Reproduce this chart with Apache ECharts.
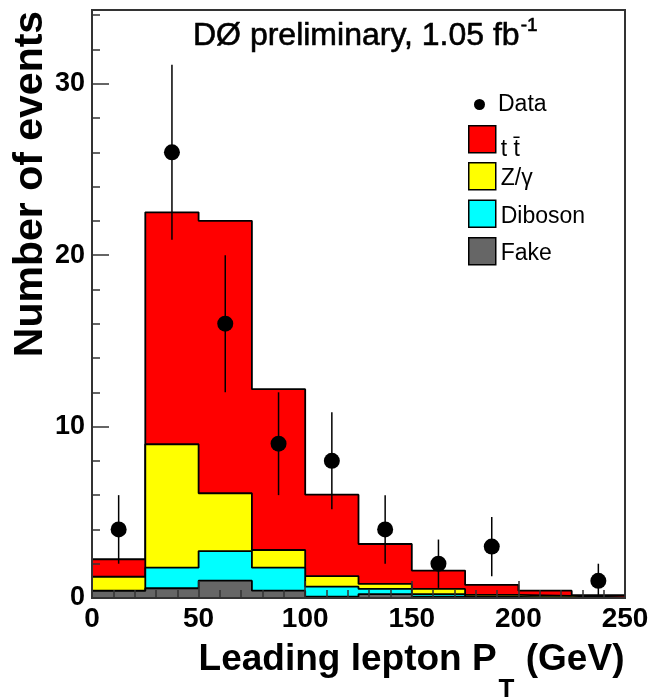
<!DOCTYPE html>
<html>
<head>
<meta charset="utf-8">
<script src="https://cdn.jsdelivr.net/npm/echarts@6/dist/echarts.min.js"></script>
<style>
  html, body { margin: 0; padding: 0; background: #fff; }
  #chart { width: 651px; height: 699px; }
</style>
</head>
<body>
<div id="chart"></div>
<script>
// Leading lepton pT histogram: stacked expectations plus observed data.
const binEdges = [0, 25, 50, 75, 100, 125, 150, 175, 200, 225, 250];
const binCenters = [12.5, 37.5, 62.5, 87.5, 112.5, 137.5, 162.5, 187.5, 212.5, 237.5];

// Expected events per bin, per process
const fake    = [0.41, 0.57, 1.01, 0.43, 0.08, 0.23, 0.08, 0.02, 0.01, 0.005];
const diboson = [0.02, 1.20, 1.73, 1.34, 0.58, 0.30, 0.15, 0.04, 0.02, 0.005];
const zgamma  = [0.81, 7.20, 3.37, 1.03, 0.62, 0.29, 0.30, 0.12, 0.09, 0.02];
const ttbar   = [1.02, 13.53, 15.89, 9.38, 4.75, 2.33, 1.07, 0.58, 0.31, 0.13];

// Observed counts and their error bars
const dataCounts = [4, 26, 16, 9, 8, 4, 2, 3, 0, 1];
const dataErrors = [2.0, 5.1, 4.0, 3.0, 2.83, 2.0, 1.41, 1.73, 0, 1.0];

const processNames  = ['Fake', 'Diboson', 'Z/\u03b3', 't t\u0304'];
const processValues = [fake, diboson, zgamma, ttbar];
const processColors = ['#666666', '#00ffff', '#ffff00', '#ff0000'];

const FONT = "'Liberation Sans', Arial, Helvetica, sans-serif";
const AX = '#333333';

// cumulative sums, bottom layer first
const cumulative = [];
processValues.forEach((vals, k) => {
  cumulative.push(vals.map((v, i) => v + (k > 0 ? cumulative[k - 1][i] : 0)));
});

function stepPoints(vals) {
  return binEdges.map((e, i) => [e, vals[Math.min(i, vals.length - 1)]]);
}

const histSeries = processNames.map((name, k) => ({
  name: name,
  type: 'line',
  step: 'end',
  symbol: 'none',
  xAxisIndex: 0,
  yAxisIndex: 0,
  z: 5 - k,
  data: stepPoints(cumulative[k]),
  lineStyle: { color: '#000', width: 1.8 },
  itemStyle: { color: processColors[k] },
  areaStyle: { color: processColors[k], opacity: 1 },
  silent: true
}));

const pointData = [];
const errData = [];
dataCounts.forEach((n, i) => {
  if (n > 0) {
    pointData.push([binCenters[i], n]);
    errData.push([binCenters[i], n, dataErrors[i]]);
  }
});

const chart = echarts.init(document.getElementById('chart'), null, { renderer: 'canvas' });

const legendText = { fontFamily: FONT, fontSize: 23, color: '#000' };
const boxStyle = (c) => ({ color: c, borderColor: '#000', borderWidth: 1.5 });
const titleInk = { color: '#000', fontWeight: 'normal', fontFamily: FONT, textBorderColor: '#000', textBorderWidth: 0.6 };

chart.setOption({
  animation: false,
  backgroundColor: '#fff',
  title: {
    left: 193, top: 16, padding: 0,
    text: '{t|D\u00d8 preliminary, 1.05 fb}{s|-1}',
    textStyle: {
      fontWeight: 'normal',
      rich: {
        t: Object.assign({ fontSize: 32, lineHeight: 36, verticalAlign: 'bottom' }, titleInk),
        s: Object.assign({ fontSize: 19, lineHeight: 20, verticalAlign: 'top', padding: [0, 0, 16, 1] }, titleInk)
      }
    }
  },
  grid: {
    left: 92, right: 26, top: 10, bottom: 101,
    outerBoundsMode: 'none', containLabel: false,
    show: true, borderColor: AX, borderWidth: 2, backgroundColor: 'transparent'
  },
  legend: [
    {
      data: [{ name: 'Data', icon: 'circle' }],
      left: 469, top: 88, orient: 'vertical',
      itemWidth: 27, itemHeight: 11, selectedMode: false,
      textStyle: legendText
    },
    {
      data: [{ name: 't t\u0304', icon: 'rect', itemStyle: boxStyle('#ff0000') }],
      left: 463, top: 120, orient: 'vertical',
      itemWidth: 27, itemHeight: 27, selectedMode: false,
      formatter: (name) => '{p|' + name + '}',
      textStyle: Object.assign({ rich: { p: Object.assign({ padding: [20, 0, 0, 0] }, legendText) } }, legendText)
    },
    {
      data: [
        { name: 'Z/\u03b3', icon: 'rect', itemStyle: boxStyle('#ffff00') },
        { name: 'Diboson', icon: 'rect', itemStyle: boxStyle('#00ffff') },
        { name: 'Fake', icon: 'rect', itemStyle: boxStyle('#666666') }
      ],
      left: 463, top: 157, orient: 'vertical',
      itemWidth: 27, itemHeight: 27, itemGap: 9, selectedMode: false,
      formatter: (name) => '{p|' + name + '}',
      textStyle: Object.assign({ rich: { p: Object.assign({ padding: [5, 0, 0, 0] }, legendText) } }, legendText)
    }
  ],
  xAxis: [
    {
      type: 'value', min: 0, max: 250, interval: 50, position: 'bottom', z: 10,
      axisLine: { show: true, lineStyle: { color: AX, width: 2 } },
      axisTick: { show: true, inside: true, length: 17, lineStyle: { color: AX, width: 1.5 } },
      splitLine: { show: false },
      axisLabel: { fontFamily: FONT, fontSize: 28, fontWeight: 'bold', color: '#000', margin: 7 },
      name: '{a|Leading lepton P}{b|T}{a| (GeV)}',
      nameLocation: 'middle', nameGap: 43, nameMoveOverlap: false,
      nameTextStyle: {
        verticalAlign: 'top', padding: [0, 0, 0, 106],
        rich: {
          a: { fontFamily: FONT, fontSize: 37, fontWeight: 'bold', color: '#000', lineHeight: 44, verticalAlign: 'top' },
          b: { fontFamily: FONT, fontSize: 26, fontWeight: 'bold', color: '#000', lineHeight: 62, verticalAlign: 'bottom', padding: [0, 1, 0, 2] }
        }
      }
    },
    {
      type: 'value', min: 0, max: 250, interval: 10, position: 'bottom', z: 10,
      axisLine: { show: false },
      axisTick: { show: true, inside: true, length: 8, lineStyle: { color: AX, width: 1.5 } },
      axisLabel: { show: false },
      splitLine: { show: false }
    }
  ],
  yAxis: [
    {
      type: 'value', min: 0, max: 34.3, interval: 10, position: 'left', z: 10,
      axisLine: { show: true, lineStyle: { color: AX, width: 2 } },
      axisTick: { show: true, inside: true, length: 17, lineStyle: { color: AX, width: 1.5 } },
      splitLine: { show: false },
      axisLabel: { fontFamily: FONT, fontSize: 27, fontWeight: 'bold', color: '#000', margin: 7, showMaxLabel: false },
      name: 'Number of events',
      nameLocation: 'middle', nameRotate: 90, nameGap: 41, nameMoveOverlap: false,
      nameTextStyle: { fontFamily: FONT, fontSize: 41, fontWeight: 'bold', color: '#000', padding: [0, 0, 0, 240] }
    },
    {
      type: 'value', min: 0, max: 34.3, interval: 2, position: 'left', z: 10,
      axisLine: { show: false },
      axisTick: { show: true, inside: true, length: 8, lineStyle: { color: AX, width: 1.5 } },
      axisLabel: { show: false },
      splitLine: { show: false }
    }
  ],
  series: histSeries.concat([
    {
      name: 'Data errors',
      type: 'custom',
      xAxisIndex: 0, yAxisIndex: 0,
      z: 9, silent: true,
      data: errData,
      renderItem: function (params, api) {
        const x = api.value(0), y = api.value(1), e = api.value(2);
        const lo = api.coord([x, y - e]);
        const hi = api.coord([x, y + e]);
        return {
          type: 'line',
          shape: { x1: lo[0], y1: lo[1], x2: hi[0], y2: hi[1] },
          style: { stroke: '#000', lineWidth: 1.5 }
        };
      }
    },
    {
      name: 'Data',
      type: 'scatter',
      xAxisIndex: 0, yAxisIndex: 0,
      z: 10, silent: true,
      symbol: 'circle', symbolSize: 16,
      itemStyle: { color: '#000', opacity: 1 },
      data: pointData
    }
  ])
});
</script>
</body>
</html>
